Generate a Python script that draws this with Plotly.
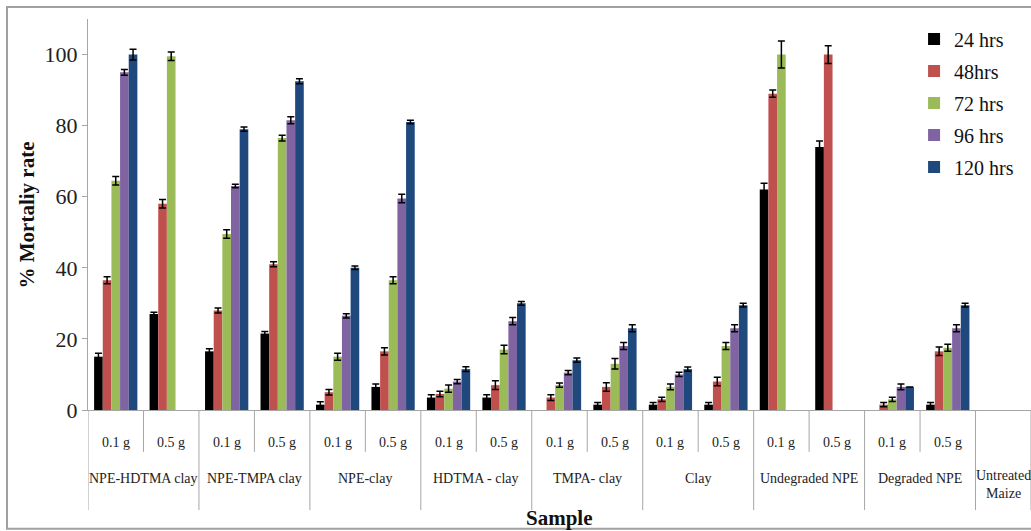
import plotly.graph_objects as go

# ---- data ----
sample_group = ["NPE-HDTMA clay", "NPE-HDTMA clay", "NPE-TMPA clay", "NPE-TMPA clay",
                "NPE-clay", "NPE-clay", "HDTMA - clay", "HDTMA - clay",
                "TMPA- clay", "TMPA- clay", "Clay", "Clay",
                "Undegraded NPE", "Undegraded NPE", "Degraded NPE", "Degraded NPE",
                "Untreated<br>Maize"]
sample_dose = ["0.1 g", "0.5 g"] * 8 + [""]

series_names = ["24 hrs", "48hrs", "72 hrs", "96 hrs", "120 hrs"]
series_colors = ["#000000", "#C0504D", "#9BBB59", "#8064A2", "#1F497D"]

h24 = [15, 27, 16.5, 21.5, 1.5, 6.5, 3.5, 3.5, 0, 1.5, 1.5, 1.5, 62, 74, 0, 1.5, 0]
h48 = [36.5, 58, 28, 41, 5, 16.5, 4.5, 7, 3.5, 6.5, 3, 8, 89, 100, 1.5, 16.5, 0]
h72 = [64.5, 99.5, 49.5, 76.5, 15, 36.5, 6, 17, 7, 13, 6.5, 18, 100, 0, 3, 17.5, 0]
h96 = [95, 0, 63, 81.5, 26.5, 59.5, 8, 25, 10.5, 18, 10, 23, 0, 0, 6.5, 23, 0]
h120 = [100, 0, 79, 92.5, 40, 81, 11.5, 30, 14, 23, 11.5, 29.5, 0, 0, 6.5, 29.5, 0]

e24 = [1, 0.5, 0.7, 0.6, 0.8, 0.8, 0.8, 0.8, 0, 0.6, 0.6, 0.6, 1.8, 1.7, 0, 0.6, 0]
e48 = [1, 1.2, 0.7, 0.7, 0.8, 1, 0.8, 1.2, 0.8, 1.2, 0.6, 1.2, 1, 2.5, 0.6, 1.2, 0]
e72 = [1.2, 1.2, 1.2, 0.8, 1, 1, 1, 1.2, 0.6, 1.5, 0.8, 1, 3.8, 0, 0.6, 1, 0]
e96 = [0.8, 0, 0.5, 1, 0.6, 1.2, 0.6, 1, 0.6, 1, 0.6, 1, 0, 0, 0.8, 1, 0]
e120 = [1.5, 0, 0.6, 0.7, 0.5, 0.5, 0.7, 0.5, 0.6, 1, 0.6, 0.5, 0, 0, 0, 0.5, 0]

values = [h24, h48, h72, h96, h120]
errors = [e24, e48, e72, e96, e120]

yticks = [0, 20, 40, 60, 80, 100]

FONT = "Liberation Serif"
xpos = list(range(len(sample_group)))

fig = go.Figure()
for name, col, v, e in zip(series_names, series_colors, values, errors):
    # bars with zero mortality are simply absent in the original chart
    yv = [val if val > 0 else None for val in v]
    fig.add_trace(go.Bar(
        x=xpos, y=yv, name=name, marker_color=col, marker_line_width=0,
        legendgroup=name,
        error_y=dict(type="data", array=e, visible=True, color="#000000",
                     thickness=1.5, width=3.5),
    ))

shapes = []
annotations = []
n = len(sample_group)
# dividers between doses (short) and between groups (long)
for i in range(n + 1):
    b = i - 0.5
    left = sample_group[i - 1] if i - 1 >= 0 else None
    right = sample_group[i] if i < n else None
    y1 = -0.256 if left != right else -0.107
    shapes.append(dict(type="line", xref="x", yref="paper", x0=b, x1=b, y0=0, y1=y1,
                       line=dict(color="#A6A6A6", width=1)))

for i, d in enumerate(sample_dose):
    if d:
        annotations.append(dict(x=i, y=-0.084, xref="x", yref="paper", text=d,
                                showarrow=False, yanchor="middle",
                                font=dict(family=FONT, size=14, color="#222")))

# group labels centred over their doses
seen = []
for g in sample_group:
    if g not in seen:
        seen.append(g)
for g in seen:
    idx = [i for i, s in enumerate(sample_group) if s == g]
    cx = sum(idx) / len(idx)
    multi = "<br>" in g
    annotations.append(dict(x=cx, y=-0.19 if multi else -0.174, xref="x", yref="paper",
                            text=g, showarrow=False, yanchor="middle",
                            font=dict(family=FONT, size=14, color="#222")))

annotations.append(dict(x=0.5, y=-0.276, xref="paper", yref="paper", text="<b>Sample</b>",
                        showarrow=False, yanchor="middle",
                        font=dict(family=FONT, size=21, color="#111")))
annotations.append(dict(x=-0.0647, y=0.5, xref="paper", yref="paper",
                        text="<b>% Mortaliy rate</b>", textangle=-90, showarrow=False,
                        xanchor="center", yanchor="middle",
                        font=dict(family=FONT, size=21, color="#111")))

# outer chart border
shapes.append(dict(type="rect", xref="paper", yref="paper", x0=-0.0859, x1=1.05,
                   y0=-0.304, y1=1.031, line=dict(color="#A0A0A0", width=2)))

fig.update_layout(
    width=1031, height=531,
    margin=dict(l=88, r=0, t=19, b=121),
    paper_bgcolor="white", plot_bgcolor="white",
    barmode="group", bargap=0.22, bargroupgap=0,
    font=dict(family=FONT, color="#222"),
    xaxis=dict(range=[-0.5, n - 0.5], showticklabels=False, ticks="",
               showgrid=False, zeroline=False, showline=True,
               linecolor="#A6A6A6", linewidth=1),
    yaxis=dict(range=[0, 110], tickvals=yticks, showgrid=False, zeroline=False,
               showline=True, linecolor="#A6A6A6", linewidth=1,
               ticks="outside", ticklen=5, tickcolor="#A6A6A6",
               tickfont=dict(family=FONT, size=22, color="#222")),
    legend=dict(x=0.876, y=0.999, xanchor="left", yanchor="top",
                font=dict(family=FONT, size=20, color="#111"),
                tracegroupgap=3, bgcolor="rgba(0,0,0,0)"),
    shapes=shapes, annotations=annotations,
)

fig.write_html("out.html")
